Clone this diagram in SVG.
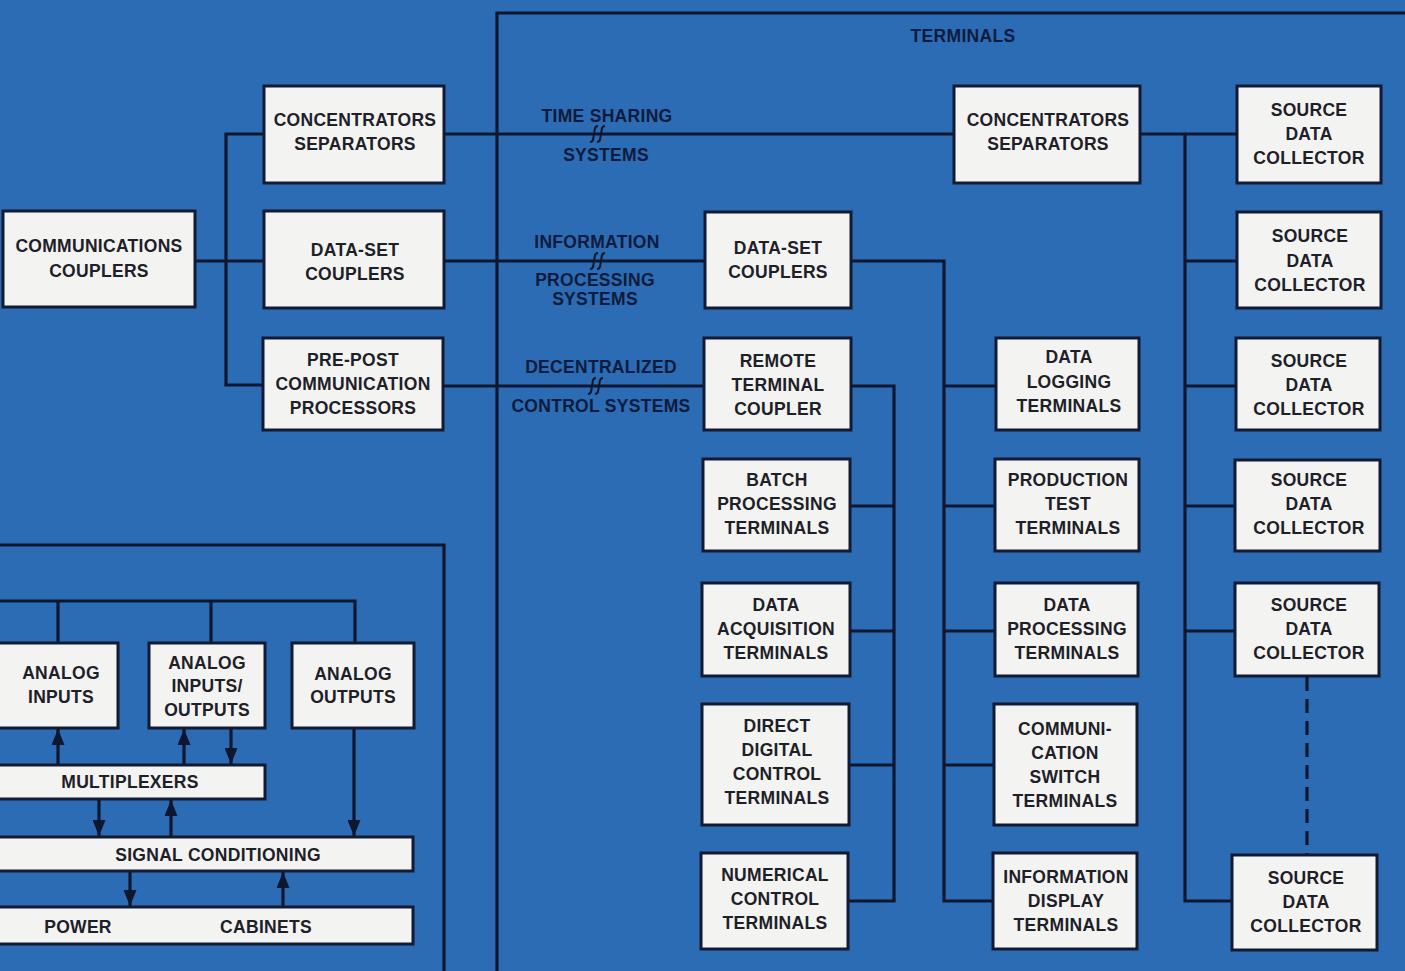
<svg xmlns="http://www.w3.org/2000/svg" width="1405" height="971" viewBox="0 0 1405 971">
<defs>
<style>
.bg{fill:#2b6cb4}
.box{fill:#f3f3f1;stroke:#121b33;stroke-width:3}
.ln{fill:none;stroke:#0e1730;stroke-width:3.2}
.dash{fill:none;stroke:#0e1730;stroke-width:3.2;stroke-dasharray:14,8}
.brk{fill:none;stroke:#0e1730;stroke-width:2}
text{font-family:"Liberation Sans",Arial,sans-serif;font-weight:bold;font-size:17.5px;text-anchor:middle;letter-spacing:0.3px}
.t{fill:#1e2028}
.lb{fill:#0f1b3c}
</style>
<marker id="ah" viewBox="0 0 16 13" refX="16" refY="6.5" markerWidth="16" markerHeight="13" markerUnits="userSpaceOnUse" orient="auto">
<path d="M0,0 L16,6.5 L0,13 z" fill="#0e1730"/>
</marker>
</defs>
<rect class="bg" x="0" y="0" width="1405" height="971"/>

<g id="connectors">
<path class="ln" d="M497,971 V13 H1405" stroke-width="2.5"/>
<path class="ln" d="M0,545 H444 V971" stroke-width="2.5"/>
<path class="ln" d="M195,261 H264"/>
<path class="ln" d="M264,134 H226 V385 H263"/>
<path class="ln" d="M444,134 H954"/>
<path class="ln" d="M444,261 H705"/>
<path class="ln" d="M443,386 H704"/>
<path class="brk" d="M590,142 C594,142 593,138 594,134 C595,130 594,126 598,126 M597,142 C601,142 600,138 601,134 C602,130 601,126 605,126"/>
<path class="brk" d="M590,269 C594,269 593,265 594,261 C595,257 594,253 598,253 M597,269 C601,269 600,265 601,261 C602,257 601,253 605,253"/>
<path class="brk" d="M588,394 C592,394 591,390 592,386 C593,382 592,378 596,378 M595,394 C599,394 598,390 599,386 C600,382 599,378 603,378"/>
<path class="ln" d="M851,386 H894 V901 H848"/>
<path class="ln" d="M850,506 H894"/>
<path class="ln" d="M850,631 H894"/>
<path class="ln" d="M849,765 H894"/>
<path class="ln" d="M851,261 H944 V901 H993"/>
<path class="ln" d="M944,386 H996"/>
<path class="ln" d="M944,506 H995"/>
<path class="ln" d="M944,631 H995"/>
<path class="ln" d="M944,765 H994"/>
<path class="ln" d="M1140,134 H1185 V901 H1232"/>
<path class="ln" d="M1185,134 H1237"/>
<path class="ln" d="M1185,261 H1237"/>
<path class="ln" d="M1185,386 H1236"/>
<path class="ln" d="M1185,506 H1235"/>
<path class="ln" d="M1185,631 H1235"/>
<path class="dash" d="M1307,677 V855"/>
<path class="ln" d="M0,601 H355 V643 M58,601 V643 M211,601 V643"/>
<path class="ln" d="M58,765 V729" marker-end="url(#ah)"/>
<path class="ln" d="M184,765 V729" marker-end="url(#ah)"/>
<path class="ln" d="M231,728 V764" marker-end="url(#ah)"/>
<path class="ln" d="M99,799 V836" marker-end="url(#ah)"/>
<path class="ln" d="M171,837 V800" marker-end="url(#ah)"/>
<path class="ln" d="M354,728 V836" marker-end="url(#ah)"/>
<path class="ln" d="M130,871 V906" marker-end="url(#ah)"/>
<path class="ln" d="M283,907 V872" marker-end="url(#ah)"/>
</g>

<g id="labels">
<text class="lb" x="963" y="42">TERMINALS</text>
<text class="lb" x="607" y="122">TIME SHARING</text>
<text class="lb" x="606" y="161">SYSTEMS</text>
<text class="lb" x="597" y="248">INFORMATION</text>
<text class="lb" x="595" y="286">PROCESSING</text>
<text class="lb" x="595" y="305">SYSTEMS</text>
<text class="lb" x="601" y="373">DECENTRALIZED</text>
<text class="lb" x="601" y="412">CONTROL SYSTEMS</text>
</g>

<g id="comm-couplers"><rect class="box" x="3" y="211" width="192" height="96"/><text class="t" x="99" y="252">COMMUNICATIONS</text><text class="t" x="99" y="277">COUPLERS</text></g>
<g id="conc-left"><rect class="box" x="264" y="86" width="180" height="97"/><text class="t" x="355" y="126">CONCENTRATORS</text><text class="t" x="355" y="150">SEPARATORS</text></g>
<g id="dataset-left"><rect class="box" x="264" y="211" width="180" height="97"/><text class="t" x="355" y="256">DATA-SET</text><text class="t" x="355" y="280">COUPLERS</text></g>
<g id="prepost"><rect class="box" x="263" y="338" width="180" height="92"/><text class="t" x="353" y="366">PRE-POST</text><text class="t" x="353" y="390">COMMUNICATION</text><text class="t" x="353" y="414">PROCESSORS</text></g>

<g id="conc-right"><rect class="box" x="954" y="86" width="186" height="97"/><text class="t" x="1048" y="126">CONCENTRATORS</text><text class="t" x="1048" y="150">SEPARATORS</text></g>
<g id="dataset-mid"><rect class="box" x="705" y="212" width="146" height="96"/><text class="t" x="778" y="254">DATA-SET</text><text class="t" x="778" y="278">COUPLERS</text></g>
<g id="remote"><rect class="box" x="704" y="338" width="147" height="92"/><text class="t" x="778" y="367">REMOTE</text><text class="t" x="778" y="391">TERMINAL</text><text class="t" x="778" y="415">COUPLER</text></g>
<g id="batch"><rect class="box" x="703" y="459" width="147" height="92"/><text class="t" x="777" y="486">BATCH</text><text class="t" x="777" y="510">PROCESSING</text><text class="t" x="777" y="534">TERMINALS</text></g>
<g id="acq"><rect class="box" x="702" y="583" width="148" height="93"/><text class="t" x="776" y="611">DATA</text><text class="t" x="776" y="635">ACQUISITION</text><text class="t" x="776" y="659">TERMINALS</text></g>
<g id="ddc"><rect class="box" x="702" y="704" width="147" height="121"/><text class="t" x="777" y="732">DIRECT</text><text class="t" x="777" y="756">DIGITAL</text><text class="t" x="777" y="780">CONTROL</text><text class="t" x="777" y="804">TERMINALS</text></g>
<g id="nc"><rect class="box" x="701" y="853" width="147" height="96"/><text class="t" x="775" y="881">NUMERICAL</text><text class="t" x="775" y="905">CONTROL</text><text class="t" x="775" y="929">TERMINALS</text></g>

<g id="logging"><rect class="box" x="996" y="338" width="143" height="92"/><text class="t" x="1069" y="363">DATA</text><text class="t" x="1069" y="388">LOGGING</text><text class="t" x="1069" y="412">TERMINALS</text></g>
<g id="prodtest"><rect class="box" x="995" y="459" width="144" height="92"/><text class="t" x="1068" y="486">PRODUCTION</text><text class="t" x="1068" y="510">TEST</text><text class="t" x="1068" y="534">TERMINALS</text></g>
<g id="dataproc"><rect class="box" x="995" y="583" width="143" height="93"/><text class="t" x="1067" y="611">DATA</text><text class="t" x="1067" y="635">PROCESSING</text><text class="t" x="1067" y="659">TERMINALS</text></g>
<g id="commswitch"><rect class="box" x="994" y="704" width="143" height="121"/><text class="t" x="1065" y="735">COMMUNI-</text><text class="t" x="1065" y="759">CATION</text><text class="t" x="1065" y="783">SWITCH</text><text class="t" x="1065" y="807">TERMINALS</text></g>
<g id="infodisp"><rect class="box" x="993" y="853" width="144" height="96"/><text class="t" x="1066" y="883">INFORMATION</text><text class="t" x="1066" y="907">DISPLAY</text><text class="t" x="1066" y="931">TERMINALS</text></g>

<g id="sdc1"><rect class="box" x="1237" y="86" width="144" height="97"/><text class="t" x="1309" y="116">SOURCE</text><text class="t" x="1309" y="140">DATA</text><text class="t" x="1309" y="164">COLLECTOR</text></g>
<g id="sdc2"><rect class="box" x="1237" y="212" width="144" height="96"/><text class="t" x="1310" y="242">SOURCE</text><text class="t" x="1310" y="267">DATA</text><text class="t" x="1310" y="291">COLLECTOR</text></g>
<g id="sdc3"><rect class="box" x="1236" y="338" width="144" height="92"/><text class="t" x="1309" y="367">SOURCE</text><text class="t" x="1309" y="391">DATA</text><text class="t" x="1309" y="415">COLLECTOR</text></g>
<g id="sdc4"><rect class="box" x="1235" y="460" width="145" height="91"/><text class="t" x="1309" y="486">SOURCE</text><text class="t" x="1309" y="510">DATA</text><text class="t" x="1309" y="534">COLLECTOR</text></g>
<g id="sdc5"><rect class="box" x="1235" y="583" width="144" height="93"/><text class="t" x="1309" y="611">SOURCE</text><text class="t" x="1309" y="635">DATA</text><text class="t" x="1309" y="659">COLLECTOR</text></g>
<g id="sdc6"><rect class="box" x="1232" y="855" width="145" height="95"/><text class="t" x="1306" y="884">SOURCE</text><text class="t" x="1306" y="908">DATA</text><text class="t" x="1306" y="932">COLLECTOR</text></g>

<g id="analog-in"><rect class="box" x="-2" y="643" width="120" height="85"/><text class="t" x="61" y="679">ANALOG</text><text class="t" x="61" y="703">INPUTS</text></g>
<g id="analog-io"><rect class="box" x="149" y="643" width="116" height="85"/><text class="t" x="207" y="669">ANALOG</text><text class="t" x="207" y="692">INPUTS/</text><text class="t" x="207" y="716">OUTPUTS</text></g>
<g id="analog-out"><rect class="box" x="292" y="643" width="122" height="85"/><text class="t" x="353" y="680">ANALOG</text><text class="t" x="353" y="703">OUTPUTS</text></g>
<g id="mux"><rect class="box" x="-2" y="765" width="267" height="34"/><text class="t" x="130" y="788">MULTIPLEXERS</text></g>
<g id="sigcond"><rect class="box" x="-2" y="837" width="415" height="34"/><text class="t" x="218" y="861">SIGNAL CONDITIONING</text></g>
<g id="powercab"><rect class="box" x="-2" y="907" width="415" height="37"/><text class="t" x="78" y="933">POWER</text><text class="t" x="266" y="933">CABINETS</text></g>
</svg>
